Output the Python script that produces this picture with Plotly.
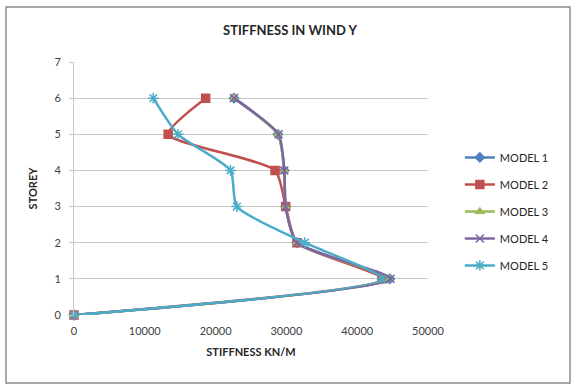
import plotly.graph_objects as go

storeys = [0, 1, 2, 3, 4, 5, 6]
model_1 = [0, 44600, 31500, 29900, 29700, 28800, 22600]
model_2 = [0, 43500, 31500, 29900, 28400, 13300, 18600]
model_3 = [0, 44500, 31500, 29900, 29700, 28800, 22600]
model_4 = [0, 44700, 31500, 29900, 29700, 28900, 22600]
model_5 = [0, 43500, 32600, 23000, 22100, 14700, 11200]
names = ["MODEL 1", "MODEL 2", "MODEL 3", "MODEL 4", "MODEL 5"]
x_ticks = [0, 10000, 20000, 30000, 40000, 50000]
x_labels = ["0", "10000", "20000", "30000", "40000", "50000"]
y_ticks = [0, 1, 2, 3, 4, 5, 6, 7]

series = [model_1, model_2, model_3, model_4, model_5]
colors = ["#4F81BD", "#C0504D", "#9BBB59", "#8064A2", "#4BACC6"]
symbols = ["diamond", "square", "triangle-up", "x-thin", "asterisk"]
msizes = [7, 8, 7, 8, 9]

fig = go.Figure()
for i, (vals, name) in enumerate(zip(series, names)):
    fig.add_trace(go.Scatter(
        x=vals, y=storeys, name=name, mode="lines+markers",
        line=dict(color=colors[i], width=2.5, shape="spline", smoothing=0.6),
        marker=dict(symbol=symbols[i], size=msizes[i], color=colors[i],
                    line=dict(color=colors[i], width=1.5)),
        cliponaxis=False, legendgroup=name,
    ))

fig.update_layout(
    width=576, height=388,
    margin=dict(l=74, r=148, t=62, b=73),
    paper_bgcolor="white", plot_bgcolor="white",
    font=dict(family="Lato, Liberation Sans, sans-serif", size=11, color="#404040"),
    title=dict(text="<b>STIFFNESS IN WIND Y</b>", x=290/576, xanchor="center",
               y=1 - 30/388, yanchor="middle",
               font=dict(size=13, color="#262626")),
    showlegend=True,
    legend=dict(x=1.09, xanchor="left", y=0.68, yanchor="top",
                font=dict(size=11, color="#262626"), tracegroupgap=8,
                bgcolor="rgba(0,0,0,0)"),
    xaxis=dict(range=[0, 50000], tickvals=x_ticks, ticktext=x_labels,
               showgrid=False, zeroline=False, ticklabelstandoff=8,
               showline=False, ticks="", tickfont=dict(size=11, color="#404040"),
               title=dict(text="<b>STIFFNESS KN/M</b>", font=dict(size=11, color="#262626"),
                          standoff=12)),
    yaxis=dict(range=[0, 7], tickvals=y_ticks, showgrid=True, gridcolor="#C8C8C8",
               gridwidth=1, zeroline=False, showline=True, linecolor="#C8C8C8",
               ticks="outside", ticklen=4, tickcolor="#C8C8C8", ticklabelstandoff=6,
               tickfont=dict(size=11, color="#404040"),
               title=dict(text="<b>STOREY</b>", font=dict(size=11, color="#262626"),
                          standoff=14)),
    shapes=[dict(type="rect", xref="paper", yref="paper",
                 x0=(6 - 74) / 354, x1=(570 - 74) / 354,
                 y0=(315 - 383) / 253, y1=(315 - 7) / 253,
                 line=dict(color="#8C8C8C", width=1.5), fillcolor="rgba(0,0,0,0)",
                 layer="below")],
)

fig.write_html("out.html")
